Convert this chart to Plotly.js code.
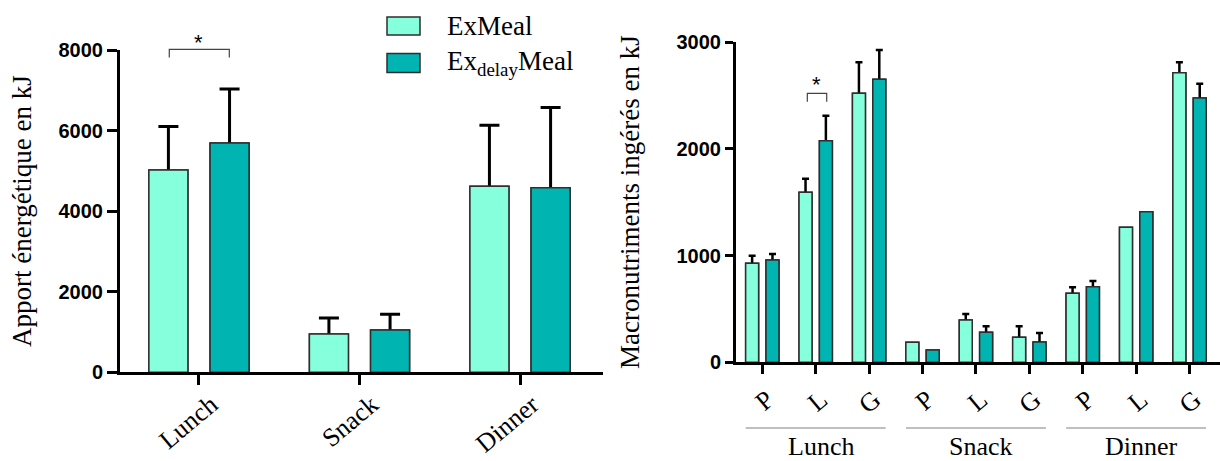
<!DOCTYPE html>
<html><head><meta charset="utf-8">
<script src="https://cdn.plot.ly/plotly-3.0.1.min.js"></script>
<style>html,body{margin:0;padding:0;background:#fff}#chart{width:1220px;height:461px}</style>
</head><body><div id="chart"></div>
<script>
// ---------- data ----------
const meals = ['Lunch', 'Snack', 'Dinner'];
const seriesNames = ['ExMeal', 'Ex<sub>delay</sub>Meal'];

// left panel: energy intake (kJ), mean and upper error
const energyEx = [5020, 950, 4620];
const energyExErr = [1080, 400, 1510];
const energyDelay = [5690, 1050, 4580];
const energyDelayErr = [1340, 390, 1990];

// right panel: macronutrients (kJ) per meal, P / L / G
const nutrients = ['P', 'L', 'G'];
const macroEx = [927, 1592, 2519, 187, 396, 234, 646, 1264, 2712];
const macroExErr = [71, 128, 291, null, 56, 103, 56, null, 98];
const macroDelay = [958, 2075, 2651, 115, 281, 190, 708, 1411, 2475];
const macroDelayErr = [56, 235, 274, null, 56, 84, 53, null, 134];

const energyTicks = [0, 2000, 4000, 6000, 8000];
const macroTicks = [0, 1000, 2000, 3000];

// ---------- helpers ----------
const W = 1220, H = 461;
const px = v => v / W;
const py = v => 1 - v / H;
const cEx = '#86FFDC', cDl = '#00B4B2', edge = '#2e2e2e';
const serif = '"Liberation Serif", "Times New Roman", serif';
const sans = '"Liberation Sans", Arial, sans-serif';

const energyX = meals.map((m, i) => i);
const macroX = [], macroTickText = [];
meals.forEach((m, i) => nutrients.forEach((n, j) => {
  macroX.push(i * nutrients.length + j);
  macroTickText.push(n);
}));

const toErr = a => a.map(v => (v == null ? NaN : v));

function bars(x, y, color, name, xa, ya, err, errW, errT) {
  const t = {
    type: 'bar', x: x, y: y, name: name, xaxis: xa, yaxis: ya,
    marker: {color: color, line: {color: edge, width: 1.5}},
    showlegend: false, hoverinfo: 'x+y'
  };
  if (err) {
    t.error_y = {type: 'data', array: toErr(err), visible: true,
                 color: '#000', thickness: errT, width: errW};
  }
  return t;
}

const data = [
  // left panel (bars with error bars, then cover bars on an overlay axis)
  bars(energyX, energyEx, cEx, 'ExMeal', 'x', 'y', energyExErr, 10, 3),
  bars(energyX, energyDelay, cDl, 'ExdelayMeal', 'x', 'y', energyDelayErr, 10, 3),
  bars(energyX, energyEx, cEx, 'ExMeal', 'x', 'y3'),
  bars(energyX, energyDelay, cDl, 'ExdelayMeal', 'x', 'y3'),
  // right panel
  bars(macroX, macroEx, cEx, 'ExMeal', 'x2', 'y2', macroExErr, 3.5, 2.5),
  bars(macroX, macroDelay, cDl, 'ExdelayMeal', 'x2', 'y2', macroDelayErr, 3.5, 2.5),
  bars(macroX, macroEx, cEx, 'ExMeal', 'x2', 'y4'),
  bars(macroX, macroDelay, cDl, 'ExdelayMeal', 'x2', 'y4')
];

const axLine = {showline: true, linecolor: '#000', linewidth: 3, showgrid: false, zeroline: false,
                ticks: 'outside', tickcolor: '#000', tickwidth: 3};
const numFont = {family: sans, size: 20, color: '#000', weight: 'bold'};

const shapes = [
  // significance brackets
  {type: 'path', xref: 'x', yref: 'paper',
   path: `M -0.185,${py(57.5)} L -0.185,${py(49.3)} L 0.189,${py(49.3)} L 0.189,${py(57.5)}`,
   line: {color: '#444', width: 1.2}},
  {type: 'path', xref: 'x2', yref: 'paper',
   path: `M 0.843,${py(101.7)} L 0.843,${py(93.3)} L 1.206,${py(93.3)} L 1.206,${py(101.7)}`,
   line: {color: '#444', width: 1.2}},
  // legend swatches
  {type: 'rect', xref: 'paper', yref: 'paper', x0: px(387), x1: px(420), y0: py(35), y1: py(17),
   fillcolor: cEx, line: {color: edge, width: 1.5}},
  {type: 'rect', xref: 'paper', yref: 'paper', x0: px(387), x1: px(420), y0: py(72.5), y1: py(53.5),
   fillcolor: cDl, line: {color: edge, width: 1.5}}
];
meals.forEach((m, i) => {
  const c = i * nutrients.length + 1;
  shapes.push({type: 'line', xref: 'x2', yref: 'paper', x0: c - 1.31, x1: c + 1.31,
               y0: py(428), y1: py(428), line: {color: '#aaaaaa', width: 1.5}});
});

const annotations = [
  {xref: 'x', yref: 'paper', x: 0, y: py(49), yanchor: 'bottom', text: '*', showarrow: false,
   font: {family: sans, size: 22, color: '#000'}, yshift: -8},
  {xref: 'x2', yref: 'paper', x: 1.02, y: py(93), yanchor: 'bottom', text: '*', showarrow: false,
   font: {family: sans, size: 22, color: '#000'}, yshift: -6},
  {xref: 'paper', yref: 'paper', x: px(445), y: py(26), xanchor: 'left', yanchor: 'middle',
   text: seriesNames[0], showarrow: false, font: {family: serif, size: 27, color: '#000'}},
  {xref: 'paper', yref: 'paper', x: px(445), y: py(63), xanchor: 'left', yanchor: 'middle',
   text: seriesNames[1], showarrow: false, font: {family: serif, size: 27, color: '#000'}}
];
meals.forEach((m, i) => {
  annotations.push({xref: 'x2', yref: 'paper', x: i * nutrients.length + 1.1, y: py(446),
    xanchor: 'center', yanchor: 'middle', text: m, showarrow: false,
    font: {family: serif, size: 26, color: '#000'}});
});

const layout = {
  width: W, height: H,
  margin: {l: 0, r: 0, t: 0, b: 0, autoexpand: false},
  paper_bgcolor: '#fff', plot_bgcolor: 'rgba(0,0,0,0)',
  barmode: 'group', bargap: 0.238, bargroupgap: 0.362,
  showlegend: false,
  xaxis: Object.assign({}, axLine, {
    domain: [px(120), px(603)], range: [-0.492, 2.517], anchor: 'y',
    tickmode: 'array', tickvals: energyX, ticktext: meals, tickangle: -40, ticklen: 10,
    ticklabelshift: 12, ticklabelstandoff: -6,
    tickfont: {family: serif, size: 26, color: '#000'}
  }),
  yaxis: Object.assign({}, axLine, {
    domain: [py(372.3), py(50)], range: [0, 8000], anchor: 'x',
    tickmode: 'array', tickvals: energyTicks, ticklen: 10, tickfont: numFont,
    automargin: true,
    title: {text: 'Apport énergétique en kJ', font: {family: serif, size: 27, color: '#000'}, standoff: 20}
  }),
  yaxis3: {overlaying: 'y', anchor: 'x', range: [0, 8000], visible: false, showgrid: false, zeroline: false},
  xaxis2: Object.assign({}, axLine, {
    domain: [px(736), 1], range: [-0.4925, 8.57], anchor: 'y2',
    tickmode: 'array', tickvals: macroX, ticktext: macroTickText, tickangle: -40, ticklen: 9,
    ticklabelshift: 5,
    tickfont: {family: serif, size: 26, color: '#000'}
  }),
  yaxis2: Object.assign({}, axLine, {
    domain: [py(362.3), py(42)], range: [0, 3000], anchor: 'x2',
    tickmode: 'array', tickvals: macroTicks, ticklen: 8, tickfont: numFont,
    automargin: true,
    title: {text: 'Macronutriments ingérés en kJ', font: {family: serif, size: 27, color: '#000'}, standoff: 30}
  }),
  yaxis4: {overlaying: 'y2', anchor: 'x2', range: [0, 3000], visible: false, showgrid: false, zeroline: false},
  shapes: shapes,
  annotations: annotations
};

Plotly.newPlot('chart', data, layout, {staticPlot: true, displayModeBar: false});
</script>
</body></html>
